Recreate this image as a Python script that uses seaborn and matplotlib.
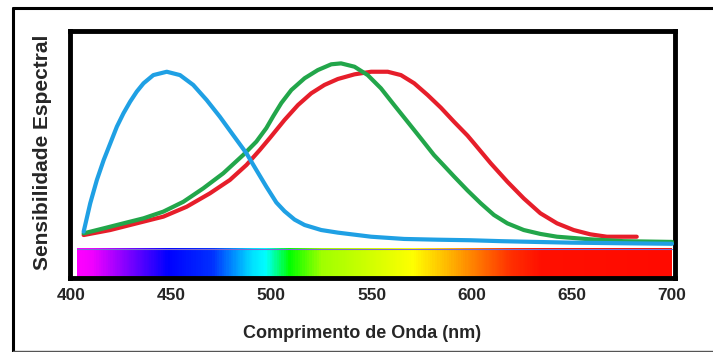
import numpy as np
import pandas as pd
import matplotlib
matplotlib.use("Agg")
import matplotlib.pyplot as plt
from matplotlib.colors import LinearSegmentedColormap
from matplotlib.lines import Line2D
import seaborn as sns

# wavelength (nm) and relative sensitivity
blue_nm = [406.3, 409.6, 412.9, 416.3, 419.6, 422.9, 426.2, 429.5, 432.8, 436.2, 441.1,
           447.8, 454.4, 461, 467.7, 474.3, 480.9, 487.6, 492.5, 497.5, 502.5, 506.6, 511.6,
           516.6, 524.9, 533.2, 549.8, 566.3, 583, 599.5, 615, 632, 650, 675, 700]
blue_val = [0.093, 0.246, 0.371, 0.478, 0.568, 0.658, 0.730, 0.792, 0.846, 0.891, 0.935,
            0.953, 0.935, 0.882, 0.801, 0.711, 0.613, 0.514, 0.425, 0.335, 0.25, 0.203,
            0.158, 0.129, 0.102, 0.088, 0.066, 0.054, 0.05, 0.047, 0.042, 0.038, 0.034,
            0.031, 0.028]

green_nm = [406.3, 416.3, 426.2, 436.2, 446.1, 456.1, 466, 476, 485.9, 492.5, 497.5, 501,
            505, 510, 516.6, 523.2, 529.9, 534.8, 541.5, 548.1, 554.7, 561.3, 568, 574.6,
            581.2, 586, 591.2, 597.9, 604.5, 611.1, 617.8, 626, 634.3, 642.6, 659.2,
            675.8, 700]
green_val = [0.084, 0.111, 0.138, 0.165, 0.201, 0.254, 0.326, 0.407, 0.505, 0.577, 0.650,
             0.715, 0.785, 0.855, 0.918, 0.962, 0.993, 0.998, 0.980, 0.935, 0.864, 0.774,
             0.684, 0.595, 0.505, 0.45, 0.39, 0.315, 0.246, 0.183, 0.138, 0.102, 0.081,
             0.066, 0.052, 0.042, 0.038]

red_nm = [406.3, 419.6, 432.8, 446.1, 457.7, 469.3, 479.3, 487.6, 494.2, 499.5, 506.6,
          513.3, 519.9, 526.5, 533.2, 541.5, 549.8, 558.1, 564.7, 571.3, 578, 584.6,
          591.2, 597.9, 601.2, 609.5, 617.8, 626, 634.3, 642.6, 650.9, 659.2, 667.5, 682.4]
red_val = [0.075, 0.102, 0.138, 0.174, 0.227, 0.299, 0.371, 0.452, 0.532, 0.60, 0.694,
           0.774, 0.837, 0.882, 0.914, 0.939, 0.953, 0.953, 0.935, 0.891, 0.828, 0.76,
           0.684, 0.61, 0.568, 0.461, 0.362, 0.272, 0.192, 0.138, 0.102, 0.079, 0.066,
           0.066]

# visible spectrum strip colours
spec_nm = [403, 410, 430, 448, 470, 490, 497, 509, 525, 545, 571, 590, 605, 620, 635, 700]
spec_col = ['#ff00ff', '#f000ff', '#7000ff', '#0000ff', '#0030ff', '#00e0ff', '#00ffff',
            '#00ff00', '#a0ff00', '#c8ff00', '#ffff00', '#ffb000', '#ff7000', '#ff3000',
            '#ff1000', '#ff0a00']

tick_vals = [400, 450, 500, 550, 600, 650, 700]

sns.set_style("white")
plt.rcParams['font.family'] = ['Liberation Sans', 'DejaVu Sans']

df = pd.concat([
    pd.DataFrame({'nm': red_nm, 'val': red_val, 'cone': 'L'}),
    pd.DataFrame({'nm': green_nm, 'val': green_val, 'cone': 'M'}),
    pd.DataFrame({'nm': blue_nm, 'val': blue_val, 'cone': 'S'}),
])

fig = plt.figure(figsize=(7.13, 3.52), dpi=100)
ax = fig.add_axes([0.0982, 0.2102, 0.8485, 0.7017])

# spectrum strip at the bottom
pos = [(n - spec_nm[0]) / (spec_nm[-1] - spec_nm[0]) for n in spec_nm]
cmap = LinearSegmentedColormap.from_list('spec', list(zip(pos, spec_col)))
grad = np.linspace(0, 1, 600).reshape(1, -1)
ax.imshow(grad, aspect='auto', cmap=cmap, extent=[spec_nm[0], spec_nm[-1], -0.156, 0.0],
          zorder=1)
ax.plot([spec_nm[0], spec_nm[-1]], [0.0, 0.0], color='#7a6ad0', lw=0.8, zorder=2)

sns.lineplot(data=df, x='nm', y='val', hue='cone', hue_order=['L', 'M', 'S'],
             palette={'L': '#e61e2a', 'M': '#22a64a', 'S': '#1fa0e4'},
             linewidth=3, legend=False, sort=False, ax=ax, zorder=3)

ax.set_xlim(399.5, 701.5)
ax.set_ylim(-0.156, 1.172)
ax.set_xticks(tick_vals)
ax.set_xticklabels([str(t) for t in tick_vals], fontsize=12.5, fontweight='bold')
ax.set_yticks([])
ax.tick_params(axis='x', length=0, pad=7)

for s in ax.spines.values():
    s.set_visible(True)
    s.set_color('black')
    s.set_linewidth(3.5)

ax.set_xlabel('Comprimento de Onda (nm)', fontsize=13, fontweight='bold')
ax.xaxis.set_label_coords(0.482, -0.19)
ax.set_ylabel('Sensibilidade Espectral', fontsize=15, fontweight='bold')
ax.yaxis.set_label_coords(-0.03, 0.51)

# outer frame around the figure
fx = 13 / 713
fy = 1 - 8 / 352
fig.add_artist(Line2D([fx, fx], [fy, 0], transform=fig.transFigure, color='black', lw=2.2))
fig.add_artist(Line2D([fx, 1], [fy, fy], transform=fig.transFigure, color='black', lw=2.2))
fig.add_artist(Line2D([fx, 1], [1.5 / 352] * 2, transform=fig.transFigure, color='#555555', lw=1))

fig.savefig('out.png', dpi=100)
